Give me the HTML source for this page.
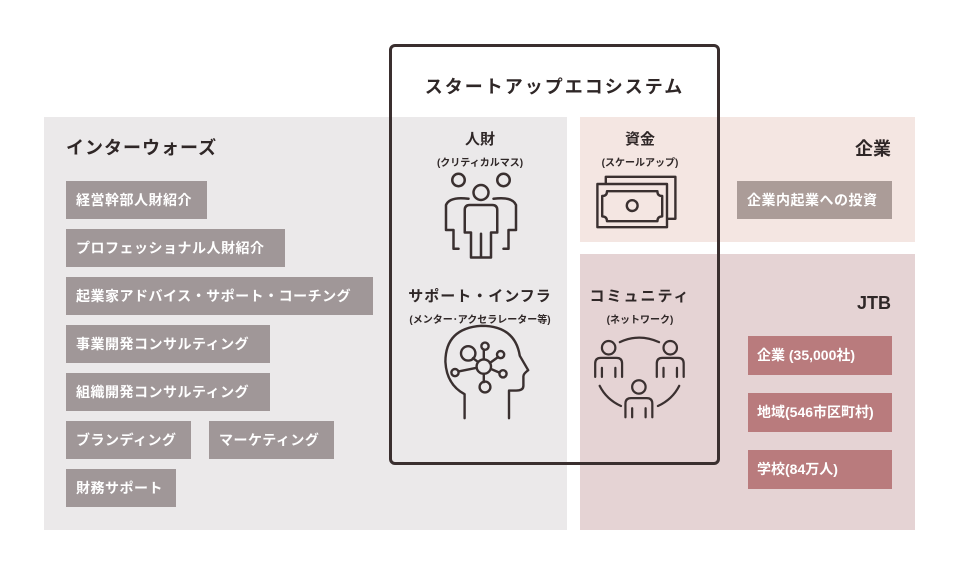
<!DOCTYPE html>
<html><head><meta charset="utf-8"><style>
*{margin:0;padding:0;box-sizing:border-box}
body{width:960px;height:575px;background:#fff;position:relative;overflow:hidden;font-family:"Liberation Sans","Noto Sans CJK JP",sans-serif;color:#2f2727}
.a{position:absolute}
.chip{position:absolute;height:38px;background:#a09798;color:#fff;font-weight:bold;font-size:14px;line-height:38px;padding-left:10px;white-space:nowrap;letter-spacing:0.5px}
.rc{position:absolute;height:39px;background:#b97b7d;color:#fff;font-weight:bold;font-size:14px;line-height:39px;padding-left:9px;white-space:nowrap}
.t{position:absolute;font-weight:bold;text-align:center;white-space:nowrap}
</style></head><body>
<div class="a" style="left:44px;top:117px;width:523px;height:413px;background:#ebe9ea"></div>
<div class="a" style="left:580px;top:117px;width:335px;height:125px;background:#f4e6e2"></div>
<div class="a" style="left:580px;top:254px;width:335px;height:276px;background:#e5d3d4"></div>
<div class="a" style="left:389px;top:44px;width:331px;height:421px;border:3px solid #3a2f2f;border-radius:6px"></div>

<div class="t" style="left:389px;width:331px;top:73px;font-size:18px;letter-spacing:2px">スタートアップエコシステム</div>
<div class="t" style="left:66px;top:134px;font-size:18px;letter-spacing:1px">インターウォーズ</div>

<div class="chip" style="left:66px;top:181px;width:141px">経営幹部人財紹介</div>
<div class="chip" style="left:66px;top:229px;width:219px">プロフェッショナル人財紹介</div>
<div class="chip" style="left:66px;top:277px;width:307px">起業家アドバイス・サポート・コーチング</div>
<div class="chip" style="left:66px;top:325px;width:204px">事業開発コンサルティング</div>
<div class="chip" style="left:66px;top:373px;width:204px">組織開発コンサルティング</div>
<div class="chip" style="left:66px;top:421px;width:125px">ブランディング</div>
<div class="chip" style="left:209px;top:421px;width:125px">マーケティング</div>
<div class="chip" style="left:66px;top:469px;width:110px">財務サポート</div>

<div class="t" style="left:430px;width:100px;top:128px;font-size:15px">人財</div>
<div class="t" style="left:410px;width:140px;top:154px;font-size:10px">(クリティカルマス)</div>
<div class="t" style="left:590px;width:100px;top:128px;font-size:15px">資金</div>
<div class="t" style="left:570px;width:140px;top:154px;font-size:10px">(スケールアップ)</div>
<div class="t" style="left:400px;width:160px;top:285px;font-size:15px;letter-spacing:1px">サポート・インフラ</div>
<div class="t" style="left:400px;width:160px;top:311px;font-size:10px">(メンター･アクセラレーター等)</div>
<div class="t" style="left:570px;width:140px;top:285px;font-size:15px;letter-spacing:2px">コミュニティ</div>
<div class="t" style="left:570px;width:140px;top:311px;font-size:10px">(ネットワーク)</div>

<div class="t" style="left:820px;width:71px;text-align:right;top:135px;font-size:18px">企業</div>
<div class="chip" style="left:737px;top:181px;width:155px;background:#ab9c98">企業内起業への投資</div>
<div class="t" style="left:820px;width:71px;text-align:right;top:293px;font-size:18px">JTB</div>
<div class="rc" style="left:748px;top:336px;width:144px">企業 (35,000社)</div>
<div class="rc" style="left:748px;top:393px;width:144px">地域(546市区町村)</div>
<div class="rc" style="left:748px;top:450px;width:144px">学校(84万人)</div>

<svg class="a" style="left:0;top:0" width="960" height="575" fill="none" stroke="#3a3030" stroke-width="2" stroke-linejoin="round" stroke-linecap="round">
<g transform="translate(481 215) scale(1.25) translate(-481 -215)">
<circle cx="463" cy="187" r="5"/><circle cx="499" cy="187" r="5"/><circle cx="481" cy="197" r="6"/>
<path d="M471 202 q-15 -2 -18 5 v20 h6 v15 h4"/><path d="M491 202 q15 -2 18 5 v20 h-6 v15 h-4"/>
<path d="M472 207 h18 q4 0 4 4 v18 h-5 v20 h-16 v-20 h-5 v-18 q0 -4 4 -4z"/><path d="M481 230 v18"/>
</g>
<g transform="translate(637 202) scale(1.2) translate(-637 -202)">
<rect x="611" y="181" width="58" height="35"/><rect x="604" y="187" width="58" height="36" fill="#f4e6e2"/>
<path d="M612 193 h42 q0 4 4 4 v17 q-4 0 -4 4 h-42 q0 -4 -4 -4 v-17 q4 0 4 -4z"/><circle cx="633" cy="205" r="4.5"/>
</g>
<g transform="translate(485 375) scale(1.2) translate(-485 -375)">
<path d="M468 411 v-20 q-15 -8 -16 -27 q0 -28 30 -30 q28 0 32 25 l7 12 q-4 3 -4 5 v8 q0 4 -6 4 h-6 v23"/>
<circle cx="484" cy="368" r="6"/><circle cx="471" cy="357" r="6"/><circle cx="485" cy="351" r="3"/><circle cx="498" cy="358" r="3"/><circle cx="460" cy="373" r="3"/><circle cx="485" cy="385" r="4.5"/><circle cx="500" cy="374" r="3"/>
<path d="M484 362 v-8 M479 364 l-4 -3 M489 365 l7 -5 M478 369 l-15 3 M484 374 v7 M490 370 l7 3"/>
</g>
<g transform="translate(640 378) scale(1.12) translate(-640 -378)">
<circle cx="612" cy="351" r="6"/><circle cx="667" cy="351" r="6"/><circle cx="639" cy="386" r="6"/>
<path d="M622 346 q17 -8 35 0"/>
<path d="M600 377 v-12 q0 -5 5 -5 h14 q5 0 5 5 v12 M606 369 v8 M618 369 v8"/>
<path d="M655 377 v-12 q0 -5 5 -5 h14 q5 0 5 5 v12 M661 369 v8 M673 369 v8"/>
<path d="M627 413 v-12 q0 -5 5 -5 h14 q5 0 5 5 v12 M633 405 v8 M645 405 v8"/>
<path d="M604 385 q6 12 19 18 M675 385 q-6 12 -19 18"/>
</g>
</svg>
</body></html>
